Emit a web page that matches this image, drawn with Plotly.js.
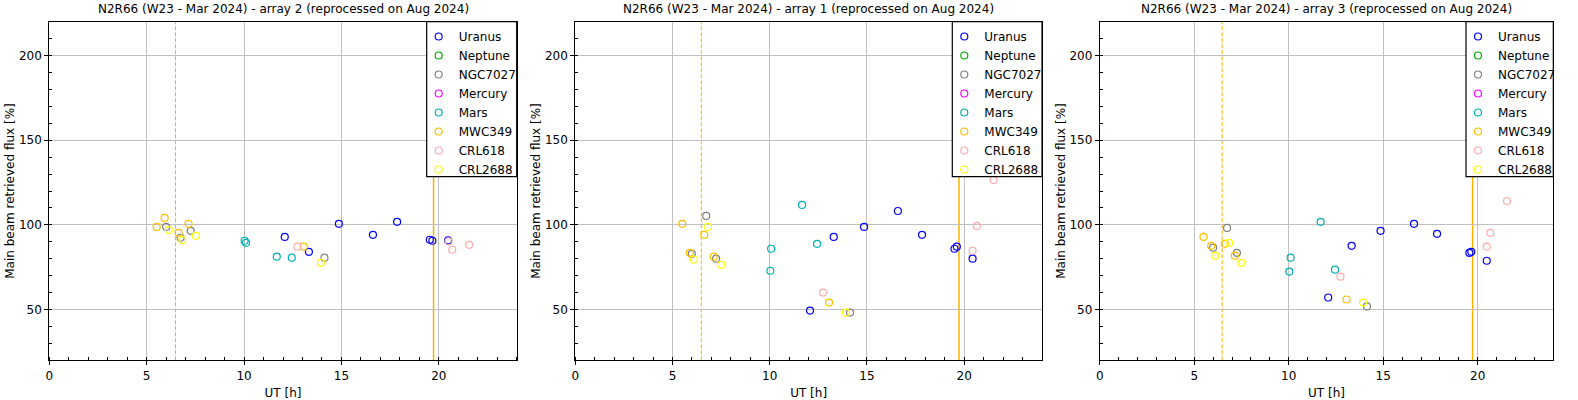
<!DOCTYPE html>
<html>
<head>
<meta charset="utf-8">
<script src="https://cdn.plot.ly/plotly-3.0.1.min.js"></script>
<style>
  html, body { margin: 0; padding: 0; background: #fff; }
  #plot { width: 1578px; height: 400px; }
</style>
</head>
<body>
<div id="plot"></div>
<script>
// titles of the three panels (left to right)
var panelTitles = [
  "N2R66 (W23 - Mar 2024) - array 2 (reprocessed on Aug 2024)",
  "N2R66 (W23 - Mar 2024) - array 1 (reprocessed on Aug 2024)",
  "N2R66 (W23 - Mar 2024) - array 3 (reprocessed on Aug 2024)"
];

var sources = ["Uranus", "Neptune", "NGC7027", "Mercury", "Mars", "MWC349", "CRL618", "CRL2688"];
var sourceColors = ["#0000ff", "#00aa00", "#808080", "#ff00ff", "#00b0b0", "#ffbf00", "#ffaaaa", "#ffff00"];

// vertical lines (UT)
var dashedLineUT = [6.48];
var solidLineUT = [19.73];

var xTicks = [0, 5, 10, 15, 20];
var yTicks = [50, 100, 150, 200];

// no Neptune / Mercury measurement in this run
var noUT = [null];
var noFlux = [null];

// ---- array 2 (left panel) ----
var uranusUT_a2 = [12.09, 13.33, 14.87, 16.62, 17.86, 19.54, 19.67, 20.48];
var uranusFlux_a2 = [92.9, 84.1, 100.6, 94.1, 101.8, 91.2, 90.6, 90.8];
var ngcUT_a2 = [6.00, 6.74, 7.26, 14.13];
var ngcFlux_a2 = [98.8, 92.4, 96.5, 80.6];
var marsUT_a2 = [10.03, 10.10, 11.68, 12.45];
var marsFlux_a2 = [90.6, 89.4, 81.2, 80.6];
var mwcUT_a2 = [5.51, 5.92, 6.64, 7.15, 13.07];
var mwcFlux_a2 = [98.8, 104.1, 95.3, 100.6, 87.1];
var crl618UT_a2 = [12.74, 20.50, 20.69, 21.56];
var crl618Flux_a2 = [87.1, 90.3, 85.3, 88.2];
var crl2688UT_a2 = [6.14, 6.83, 7.53, 13.95];
var crl2688Flux_a2 = [96.9, 91.0, 93.5, 77.6];

// ---- array 1 (middle panel) ----
var uranusUT_a1 = [12.07, 13.29, 14.85, 16.59, 17.83, 19.50, 19.62, 20.43];
var uranusFlux_a1 = [49.4, 92.9, 98.8, 108.2, 94.1, 85.9, 87.1, 80.0];
var ngcUT_a1 = [5.99, 6.73, 7.24, 14.13];
var ngcFlux_a1 = [82.9, 105.3, 80.0, 48.2];
var marsUT_a1 = [10.03, 10.07, 11.66, 12.43];
var marsFlux_a1 = [72.9, 85.9, 111.8, 88.8];
var mwcUT_a1 = [5.50, 5.89, 6.63, 7.12, 13.05];
var mwcFlux_a1 = [100.6, 83.5, 94.1, 81.2, 54.1];
var crl618UT_a1 = [12.74, 20.43, 20.65, 21.51];
var crl618Flux_a1 = [60.0, 84.7, 99.4, 126.5];
var crl2688UT_a1 = [6.10, 6.83, 7.50, 13.92];
var crl2688Flux_a1 = [79.4, 98.8, 76.5, 48.2];

// ---- array 3 (right panel) ----
var uranusUT_a3 = [12.09, 13.33, 14.86, 16.63, 17.85, 19.56, 19.66, 20.48];
var uranusFlux_a3 = [57.1, 87.6, 96.5, 100.6, 94.7, 83.5, 84.1, 78.8];
var ngcUT_a3 = [6.00, 6.74, 7.26, 14.14];
var ngcFlux_a3 = [86.5, 98.2, 83.5, 51.8];
var marsUT_a3 = [10.03, 10.10, 11.69, 12.45];
var marsFlux_a3 = [72.4, 80.6, 101.8, 73.5];
var mwcUT_a3 = [5.49, 5.90, 6.62, 7.15, 13.06];
var mwcFlux_a3 = [92.9, 87.6, 88.8, 81.8, 55.9];
var crl618UT_a3 = [12.74, 20.48, 20.67, 21.55];
var crl618Flux_a3 = [69.4, 87.1, 95.3, 114.1];
var crl2688UT_a3 = [6.11, 6.85, 7.50, 13.93];
var crl2688Flux_a3 = [81.8, 89.4, 77.6, 54.1];

// per panel: UT and flux lists in the order of "sources"
var panelUT = [
  [uranusUT_a2, noUT, ngcUT_a2, noUT, marsUT_a2, mwcUT_a2, crl618UT_a2, crl2688UT_a2],
  [uranusUT_a1, noUT, ngcUT_a1, noUT, marsUT_a1, mwcUT_a1, crl618UT_a1, crl2688UT_a1],
  [uranusUT_a3, noUT, ngcUT_a3, noUT, marsUT_a3, mwcUT_a3, crl618UT_a3, crl2688UT_a3]
];
var panelFlux = [
  [uranusFlux_a2, noFlux, ngcFlux_a2, noFlux, marsFlux_a2, mwcFlux_a2, crl618Flux_a2, crl2688Flux_a2],
  [uranusFlux_a1, noFlux, ngcFlux_a1, noFlux, marsFlux_a1, mwcFlux_a1, crl618Flux_a1, crl2688Flux_a1],
  [uranusFlux_a3, noFlux, ngcFlux_a3, noFlux, marsFlux_a3, mwcFlux_a3, crl618Flux_a3, crl2688Flux_a3]
];

// plot areas in pixels of the 1578x400 picture
var W = 1578, H = 400;
var xPix = [[49.3, 516.7], [575.3, 1042], [1099.7, 1553.3]];
var yPix = [21.7, 360.3];
// legend boxes (left edge, px), they end at the right edge of the plot
var legLeft = [426.7, 952.3, 1466];
var legBottom = 176.7;

var font = {family: "DejaVu Sans, sans-serif", size: 12, color: "#000"};
var data = [];
var shapes = [];
var annotations = [];
var layout = {
  width: W, height: H,
  margin: {l: 0, r: 0, t: 0, b: 0},
  paper_bgcolor: "#fff",
  plot_bgcolor: "#fff",
  font: font,
  showlegend: true
};

for (var p = 0; p < 3; p++) {
  var n = p === 0 ? "" : String(p + 1);
  var xa = "x" + n, ya = "y" + n;
  var legName = p === 0 ? "legend" : "legend" + (p + 1);

  for (var s = 0; s < sources.length; s++) {
    data.push({
      type: "scatter",
      mode: "markers",
      name: sources[s],
      x: panelUT[p][s],
      y: panelFlux[p][s],
      xaxis: xa, yaxis: ya,
      legend: legName,
      showlegend: true,
      marker: {symbol: "circle-open", size: 7, color: sourceColors[s], line: {width: 1.2, color: sourceColors[s]}},
      hoverinfo: "x+y+name"
    });
  }

  layout["xaxis" + n] = {
    domain: [xPix[p][0] / W, xPix[p][1] / W],
    anchor: ya,
    range: [0, 24],
    tickvals: xTicks,
    showgrid: true, gridcolor: "#c0c0c0", gridwidth: 1,
    zeroline: false,
    showline: true, mirror: true, linecolor: "#000", linewidth: 1,
    ticks: "outside", ticklen: 4, tickcolor: "#000",
    minor: {dtick: 1, ticks: "inside", ticklen: 3, tickcolor: "#000", showgrid: false},
    tickfont: font,
    title: {text: "UT [h]", font: font, standoff: 6}
  };
  layout["yaxis" + n] = {
    domain: [1 - yPix[1] / H, 1 - yPix[0] / H],
    anchor: xa,
    range: [20, 220],
    tickvals: yTicks,
    showgrid: true, gridcolor: "#c0c0c0", gridwidth: 1,
    zeroline: false,
    showline: true, mirror: true, linecolor: "#000", linewidth: 1,
    ticks: "outside", ticklen: 4, tickcolor: "#000",
    minor: {dtick: 10, ticks: "inside", ticklen: 3, tickcolor: "#000", showgrid: false},
    tickfont: font,
    title: {text: "Main beam retrieved flux [%]", font: font, standoff: 1}
  };

  // legend entries without their own frame; the frame is the box below
  layout[legName] = {
    x: (legLeft[p] - 8) / W, xanchor: "left",
    y: 1 - 22 / H, yanchor: "top",
    bgcolor: "rgba(0,0,0,0)", borderwidth: 0,
    font: font,
    itemwidth: 30,
    itemclick: false
  };
  shapes.push({
    type: "rect", xref: "paper", yref: "paper",
    x0: legLeft[p] / W, x1: xPix[p][1] / W,
    y0: 1 - legBottom / H, y1: 1 - yPix[0] / H,
    fillcolor: "#fff", line: {color: "#000", width: 1.2}, layer: "above"
  });

  shapes.push({
    type: "line", xref: xa, yref: ya + " domain",
    x0: dashedLineUT[0], x1: dashedLineUT[0], y0: 0, y1: 1,
    line: {color: "#f5b400", width: 1, dash: "4px,2px"}, layer: "below"
  });
  shapes.push({
    type: "line", xref: xa, yref: ya + " domain",
    x0: solidLineUT[0], x1: solidLineUT[0], y0: 0, y1: 1,
    line: {color: "#f5b400", width: 1.5}, layer: "below"
  });

  annotations.push({
    text: panelTitles[p], showarrow: false,
    xref: xa + " domain", yref: "paper",
    x: 0.5, y: 1 - 9 / H, xanchor: "center", yanchor: "middle",
    font: font
  });
}

layout.shapes = shapes;
layout.annotations = annotations;

Plotly.newPlot("plot", data, layout, {displayModeBar: false, staticPlot: true});
</script>
</body>
</html>
